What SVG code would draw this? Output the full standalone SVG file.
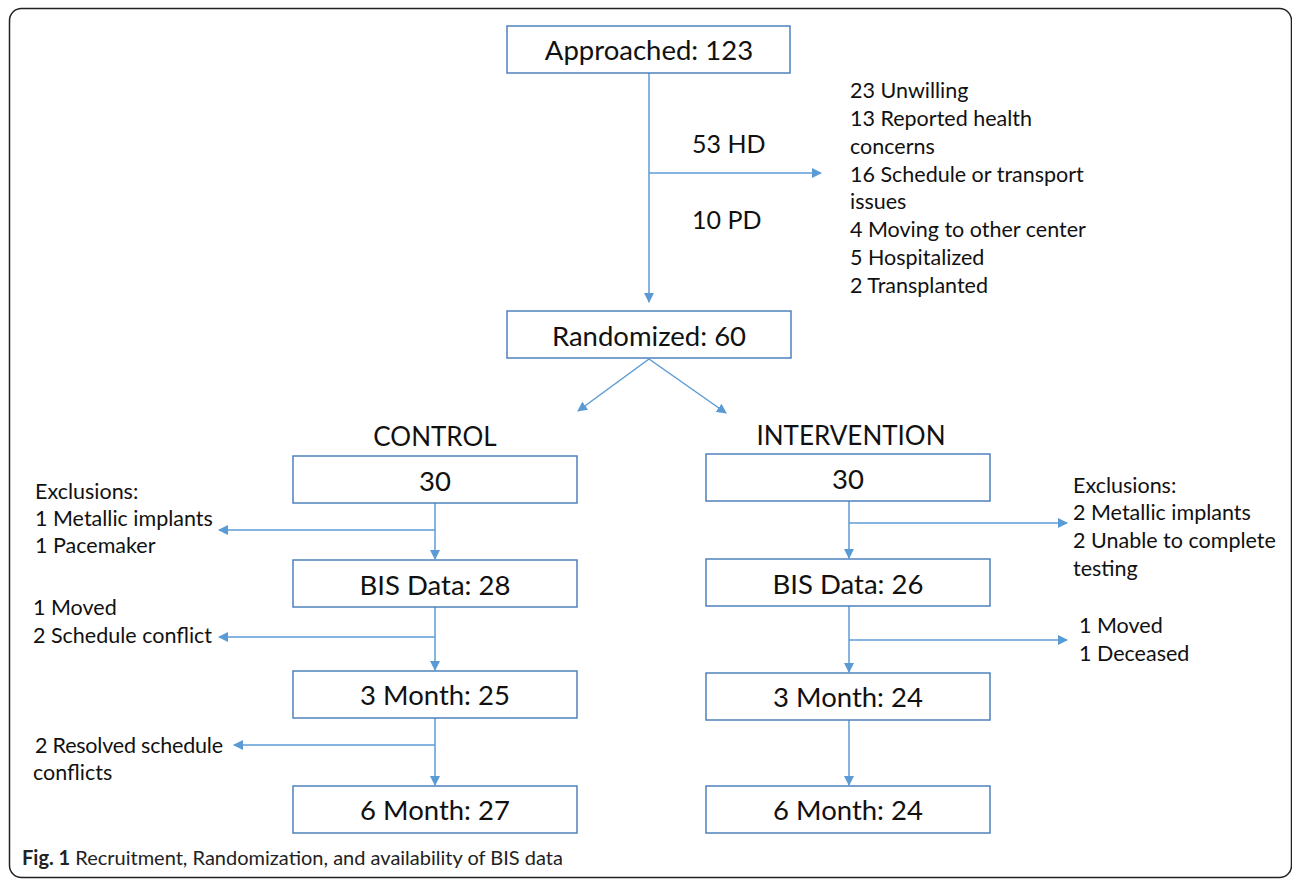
<svg xmlns="http://www.w3.org/2000/svg" width="1292" height="879" viewBox="0 0 1292 879">
<style>
.box{fill:#fff;stroke:#4f81bd;stroke-width:1.5}
.bt{font-family:Lato,"Liberation Sans",sans-serif;font-size:27.5px;fill:#111;text-anchor:middle;dominant-baseline:central}
.hd{font-family:Lato,"Liberation Sans",sans-serif;font-size:26px;fill:#111;text-anchor:middle;dominant-baseline:central}
.lt{font-family:Lato,"Liberation Sans",sans-serif;font-size:21.5px;fill:#111}
.mt{font-family:Lato,"Liberation Sans",sans-serif;font-size:25px;fill:#111}
.cn{stroke:#5b9bd5;stroke-width:1.5;fill:none}
.cap{font-family:Lato,"Liberation Sans",sans-serif;font-size:20px;fill:#222}
</style>
<defs>
<marker id="ah" viewBox="0 0 10 10" refX="9" refY="5" markerWidth="10" markerHeight="10" markerUnits="userSpaceOnUse" orient="auto">
<path d="M0,0 L10,5 L0,10 z" fill="#5b9bd5"/>
</marker>
</defs>
<rect x="9.5" y="8.5" width="1282" height="869" rx="12" fill="#fff" stroke="#222" stroke-width="1.5"/>

<g id="connectors">
<line class="cn" x1="649" y1="73" x2="649" y2="302" marker-end="url(#ah)"/>
<line class="cn" x1="649" y1="173" x2="821" y2="173" marker-end="url(#ah)"/>
<line class="cn" x1="649" y1="359" x2="578" y2="411" marker-end="url(#ah)"/>
<line class="cn" x1="649" y1="359" x2="726" y2="413" marker-end="url(#ah)"/>
<line class="cn" x1="435" y1="503" x2="435" y2="559" marker-end="url(#ah)"/>
<line class="cn" x1="435" y1="530" x2="219" y2="530" marker-end="url(#ah)"/>
<line class="cn" x1="435" y1="607" x2="435" y2="670" marker-end="url(#ah)"/>
<line class="cn" x1="435" y1="637" x2="219" y2="637" marker-end="url(#ah)"/>
<line class="cn" x1="435" y1="718" x2="435" y2="785" marker-end="url(#ah)"/>
<line class="cn" x1="435" y1="745" x2="234" y2="745" marker-end="url(#ah)"/>
<line class="cn" x1="849" y1="501" x2="849" y2="558" marker-end="url(#ah)"/>
<line class="cn" x1="849" y1="523" x2="1067" y2="523" marker-end="url(#ah)"/>
<line class="cn" x1="849" y1="606" x2="849" y2="672" marker-end="url(#ah)"/>
<line class="cn" x1="849" y1="640" x2="1067" y2="640" marker-end="url(#ah)"/>
<line class="cn" x1="849" y1="720" x2="849" y2="785" marker-end="url(#ah)"/>
</g>

<g id="approached"><rect class="box" x="507" y="26" width="283" height="47"/><text class="bt" x="649" y="49">Approached: 123</text></g>
<g id="randomized"><rect class="box" x="507" y="311" width="284" height="47"/><text class="bt" x="649" y="335">Randomized: 60</text></g>

<g id="ctrl-30"><rect class="box" x="293" y="456" width="284" height="47"/><text class="bt" x="435" y="480">30</text></g>
<g id="ctrl-bis"><rect class="box" x="293" y="560" width="284" height="47"/><text class="bt" x="435" y="584">BIS Data: 28</text></g>
<g id="ctrl-3m"><rect class="box" x="293" y="671" width="284" height="47"/><text class="bt" x="435" y="694">3 Month: 25</text></g>
<g id="ctrl-6m"><rect class="box" x="293" y="786" width="284" height="47"/><text class="bt" x="435" y="809">6 Month: 27</text></g>

<g id="int-30"><rect class="box" x="706" y="454" width="284" height="47"/><text class="bt" x="848" y="478">30</text></g>
<g id="int-bis"><rect class="box" x="706" y="559" width="284" height="47"/><text class="bt" x="848" y="583">BIS Data: 26</text></g>
<g id="int-3m"><rect class="box" x="706" y="673" width="284" height="47"/><text class="bt" x="848" y="696">3 Month: 24</text></g>
<g id="int-6m"><rect class="box" x="706" y="786" width="284" height="47"/><text class="bt" x="848" y="809">6 Month: 24</text></g>

<g id="labels">
<text class="mt" x="692" y="153">53 HD</text>
<text class="mt" x="692" y="229">10 PD</text>
<text class="lt" x="850" y="98">23 Unwilling</text>
<text class="lt" x="850" y="126">13 Reported health</text>
<text class="lt" x="850" y="154">concerns</text>
<text class="lt" x="850" y="182">16 Schedule or transport</text>
<text class="lt" x="850" y="209">issues</text>
<text class="lt" x="850" y="237">4 Moving to other center</text>
<text class="lt" x="850" y="265">5 Hospitalized</text>
<text class="lt" x="850" y="293">2 Transplanted</text>
<text class="hd" x="435" y="436">CONTROL</text>
<text class="hd" x="851" y="435">INTERVENTION</text>
<text class="lt" x="35" y="499">Exclusions:</text>
<text class="lt" x="35" y="526">1 Metallic implants</text>
<text class="lt" x="35" y="553">1 Pacemaker</text>
<text class="lt" x="33" y="615">1 Moved</text>
<text class="lt" x="33" y="643">2 Schedule conflict</text>
<text class="lt" x="35" y="753" textLength="188">2 Resolved schedule</text>
<text class="lt" x="33" y="780">conflicts</text>
<text class="lt" x="1073" y="493">Exclusions:</text>
<text class="lt" x="1073" y="520">2 Metallic implants</text>
<text class="lt" x="1073" y="548">2 Unable to complete</text>
<text class="lt" x="1073" y="576">testing</text>
<text class="lt" x="1079" y="633">1 Moved</text>
<text class="lt" x="1079" y="661">1 Deceased</text>
</g>
<text class="cap" x="22" y="865"><tspan font-weight="bold">Fig. 1</tspan> Recruitment, Randomization, and availability of BIS data</text>
</svg>
